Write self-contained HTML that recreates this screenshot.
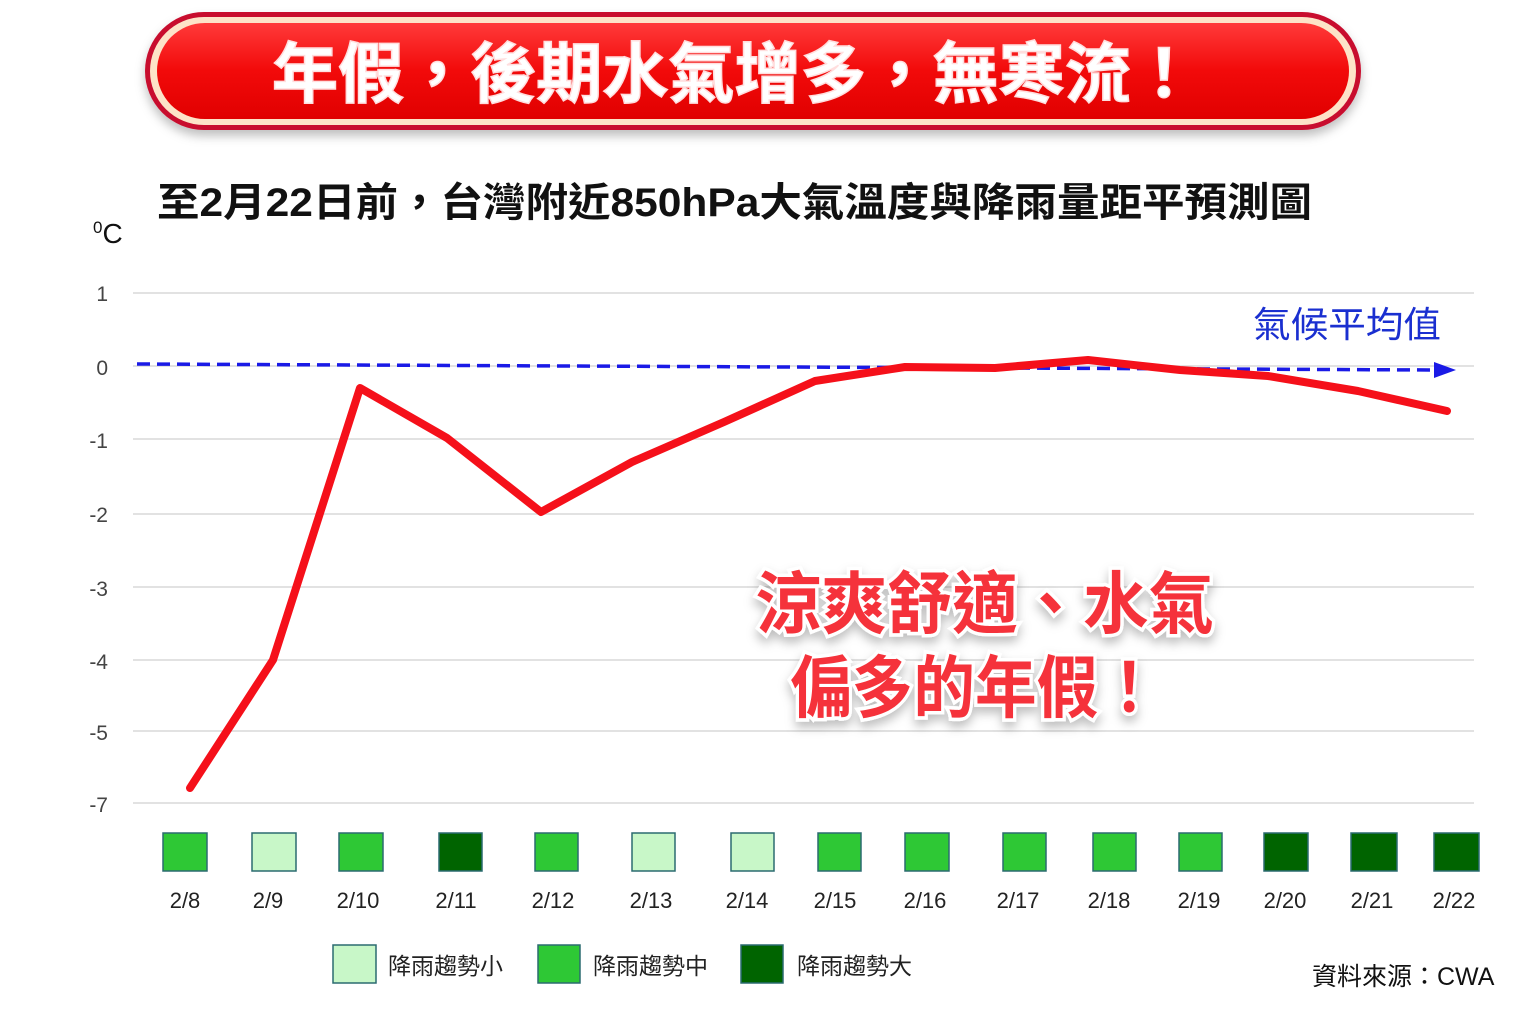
<!DOCTYPE html>
<html><head><meta charset="utf-8"><style>
body{margin:0;background:#fff;}
svg{display:block;font-family:"Liberation Sans","Noto Sans CJK TC",sans-serif;}
</style></head><body>
<svg width="1536" height="1024" viewBox="0 0 1536 1024">
<defs>
<linearGradient id="rg" x1="0" y1="0" x2="0" y2="1">
<stop offset="0" stop-color="#ff3a3a"/><stop offset="0.5" stop-color="#f20a0a"/><stop offset="1" stop-color="#e00000"/>
</linearGradient>
<filter id="sh" x="-5%" y="-20%" width="110%" height="150%"><feDropShadow dx="0" dy="6" stdDeviation="5" flood-color="#000" flood-opacity="0.25"/></filter>
</defs>
<rect x="145" y="12" width="1216" height="118" rx="59" fill="#c8102e" filter="url(#sh)"/>
<rect x="150" y="17" width="1206" height="108" rx="54" fill="#fde3c8"/>
<rect x="157" y="23" width="1192" height="96" rx="48" fill="url(#rg)"/>
<text x="272" y="97" textLength="925" lengthAdjust="spacingAndGlyphs" font-size="66" font-weight="bold" fill="#fff" stroke="#ffdede" stroke-width="1.5" font-family="'Noto Sans CJK TC',sans-serif">年假，後期水氣增多，無寒流！</text>

<text x="157" y="216" textLength="1155" lengthAdjust="spacingAndGlyphs" font-size="40" font-weight="bold" fill="#111" font-family="'Liberation Sans','Noto Sans CJK TC',sans-serif">至2月22日前，台灣附近850hPa大氣溫度與降雨量距平預測圖</text>
<text x="93" y="243" font-size="28" fill="#111"><tspan font-size="17" dy="-10">0</tspan><tspan dy="10">C</tspan></text>

<g stroke="#d8d8d8" stroke-width="1.5">
<line x1="133" y1="293" x2="1474" y2="293"/><line x1="133" y1="366" x2="1474" y2="366"/>
<line x1="133" y1="439" x2="1474" y2="439"/><line x1="133" y1="514" x2="1474" y2="514"/>
<line x1="133" y1="587" x2="1474" y2="587"/><line x1="133" y1="660" x2="1474" y2="660"/>
<line x1="133" y1="731" x2="1474" y2="731"/><line x1="133" y1="803" x2="1474" y2="803"/>
</g>
<g font-size="21" fill="#444" text-anchor="end">
<text x="108" y="301">1</text><text x="108" y="375">0</text><text x="108" y="448">-1</text>
<text x="108" y="522">-2</text><text x="108" y="596">-3</text><text x="108" y="669">-4</text>
<text x="108" y="740">-5</text><text x="108" y="812">-7</text>
</g>

<line x1="137" y1="364" x2="1436" y2="370" stroke="#1a1ae6" stroke-width="3.5" stroke-dasharray="13,7"/>
<polygon points="1434,362 1456,370 1434,378" fill="#1a1ae6"/>
<text x="1253" y="337" textLength="188" lengthAdjust="spacingAndGlyphs" font-size="36" fill="#1a2fd0" font-family="'Noto Sans CJK TC',sans-serif">氣候平均值</text>

<polyline fill="none" stroke="#f5101a" stroke-width="8" stroke-linejoin="round" stroke-linecap="round"
points="190,788 273,660 360,388 447,438 541,512 632,462 724,422 815,381 905,367 995,368 1088,360 1180,370 1268,376 1358,391 1447,411"/>

<g font-size="68" font-weight="bold" fill="#f5333a" stroke="#fff" stroke-width="7" paint-order="stroke" font-family="'Noto Sans CJK TC',sans-serif" filter="url(#sh)">
<text x="756" y="628" textLength="458" lengthAdjust="spacingAndGlyphs">涼爽舒適、水氣</text>
<text x="790" y="712" textLength="370" lengthAdjust="spacingAndGlyphs">偏多的年假！</text>
</g>

<g stroke="#2b6b70" stroke-width="1.5">
<rect x="163" y="833" width="44" height="38" fill="#2ec835"/>
<rect x="252" y="833" width="44" height="38" fill="#c8f7c8"/>
<rect x="339" y="833" width="44" height="38" fill="#2ec835"/>
<rect x="439" y="833" width="43" height="38" fill="#006400"/>
<rect x="535" y="833" width="43" height="38" fill="#2ec835"/>
<rect x="632" y="833" width="43" height="38" fill="#c8f7c8"/>
<rect x="731" y="833" width="43" height="38" fill="#c8f7c8"/>
<rect x="818" y="833" width="43" height="38" fill="#2ec835"/>
<rect x="905" y="833" width="44" height="38" fill="#2ec835"/>
<rect x="1003" y="833" width="43" height="38" fill="#2ec835"/>
<rect x="1093" y="833" width="43" height="38" fill="#2ec835"/>
<rect x="1179" y="833" width="43" height="38" fill="#2ec835"/>
<rect x="1264" y="833" width="44" height="38" fill="#006400"/>
<rect x="1351" y="833" width="46" height="38" fill="#006400"/>
<rect x="1434" y="833" width="45" height="38" fill="#006400"/>
</g>
<g font-size="22" fill="#222" text-anchor="middle">
<text x="185" y="908">2/8</text><text x="268" y="908">2/9</text><text x="358" y="908">2/10</text>
<text x="456" y="908">2/11</text><text x="553" y="908">2/12</text><text x="651" y="908">2/13</text>
<text x="747" y="908">2/14</text><text x="835" y="908">2/15</text><text x="925" y="908">2/16</text>
<text x="1018" y="908">2/17</text><text x="1109" y="908">2/18</text><text x="1199" y="908">2/19</text>
<text x="1285" y="908">2/20</text><text x="1372" y="908">2/21</text><text x="1454" y="908">2/22</text>
</g>

<g stroke="#2b6b70" stroke-width="1.5">
<rect x="333" y="945" width="43" height="38" fill="#c8f7c8"/>
<rect x="538" y="945" width="42" height="38" fill="#2ec835"/>
<rect x="741" y="945" width="42" height="38" fill="#006400"/>
</g>
<g font-size="23" fill="#222" font-family="'Noto Sans CJK TC',sans-serif">
<text x="388" y="974">降雨趨勢小</text><text x="593" y="974">降雨趨勢中</text><text x="797" y="974">降雨趨勢大</text>
</g>
<text x="1312" y="985" font-size="25" fill="#111" font-family="'Liberation Sans','Noto Sans CJK TC',sans-serif">資料來源：CWA</text>
</svg>
</body></html>
